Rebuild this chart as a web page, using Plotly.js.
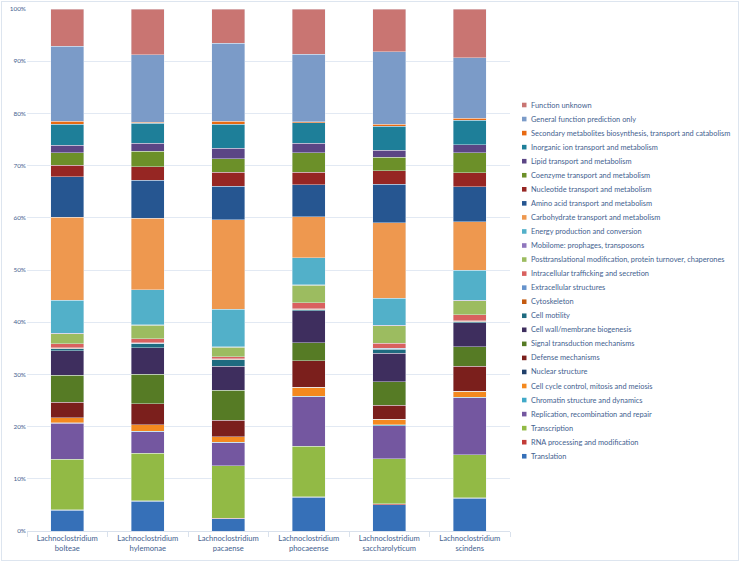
<!DOCTYPE html>
<html><head><meta charset="utf-8">
<script src="https://cdn.plot.ly/plotly-3.0.1.min.js"></script>
<style>
html,body{margin:0;padding:0;background:#fff}
#chart{width:740px;height:562px}
#frame{position:absolute;left:1px;top:1px;width:736px;height:558px;border:1px solid #dde5ef;pointer-events:none}
</style>
</head><body>
<div id="chart"></div><div id="frame"></div>
<script>
// Species (x categories)
const species = ["Lachnoclostridium<br>bolteae","Lachnoclostridium<br>hylemonae","Lachnoclostridium<br>pacaense","Lachnoclostridium<br>phocaeense","Lachnoclostridium<br>saccharolyticum","Lachnoclostridium<br>scindens"];

// COG category shares (%) per species, bottom to top of each stack
const translation      = [4.0, 5.75, 2.4, 6.45, 5.1, 6.3];
const rnaProcessing    = [0.1, 0.1, 0.1, 0.1, 0.1, 0.1];
const transcription    = [9.7, 9.15, 10.1, 9.75, 8.7, 8.3];
const replication      = [6.9, 4.1, 4.4, 9.5, 6.4, 10.9];
const chromatin        = [0.1, 0.1, 0.1, 0.1, 0.1, 0.1];
const cellCycle        = [1.0, 1.2, 1.0, 1.8, 1.1, 1.2];
const nuclearStructure = [0, 0, 0, 0, 0, 0];
const defense          = [3.0, 4.1, 3.2, 5.1, 2.7, 4.8];
const signalTrans      = [5.2, 5.7, 5.8, 3.4, 4.5, 3.8];
const cellWall         = [4.7, 5.1, 4.6, 6.2, 5.5, 4.6];
const cellMotility     = [0.4, 0.8, 1.3, 0.2, 0.8, 0.2];
const cytoskeleton     = [0.05, 0.05, 0.05, 0.05, 0.05, 0.05];
const extracellular    = [0.1, 0.1, 0.1, 0.1, 0.1, 0.1];
const intracellular    = [0.8, 0.7, 0.4, 1.2, 1.0, 1.2];
const posttranslation  = [1.9, 2.6, 1.8, 3.3, 3.3, 2.7];
const mobilome         = [0.1, 0.1, 0.1, 0.1, 0.1, 0.1];
const energy           = [6.4, 6.8, 7.2, 5.2, 5.2, 5.7];
const carbohydrate     = [15.9, 13.7, 17.2, 7.9, 14.6, 9.4];
const aminoAcid        = [7.8, 7.3, 6.5, 6.2, 7.4, 6.7];
const nucleotide       = [2.2, 2.6, 2.7, 2.4, 2.6, 2.7];
const coenzyme         = [2.4, 3.0, 2.6, 3.7, 2.6, 3.8];
const lipid            = [1.5, 1.6, 2.0, 1.9, 1.3, 1.6];
const inorganicIon     = [4.0, 3.8, 4.6, 3.9, 4.6, 4.7];
const secondaryMetab   = [0.6, 0.2, 0.6, 0.2, 0.4, 0.4];
const generalFunction  = [14.4, 13.0, 15.0, 13.0, 14.0, 11.6];
const functionUnknown  = [7.2, 8.8, 6.6, 8.7, 8.2, 9.4];

const categoryNames = ["Translation","RNA processing and modification","Transcription","Replication, recombination and repair","Chromatin structure and dynamics","Cell cycle control, mitosis and meiosis","Nuclear structure","Defense mechanisms","Signal transduction mechanisms","Cell wall/membrane biogenesis","Cell motility","Cytoskeleton","Extracellular structures","Intracellular trafficking and secretion","Posttranslational modification, protein turnover, chaperones","Mobilome: prophages, transposons","Energy production and conversion","Carbohydrate transport and metabolism","Amino acid transport and metabolism","Nucleotide transport and metabolism","Coenzyme transport and metabolism","Lipid transport and metabolism","Inorganic ion transport and metabolism","Secondary metabolites biosynthesis, transport and catabolism","General function prediction only","Function unknown"];
const seriesValues = [translation,rnaProcessing,transcription,replication,chromatin,cellCycle,nuclearStructure,defense,signalTrans,cellWall,cellMotility,cytoskeleton,extracellular,intracellular,posttranslation,mobilome,energy,carbohydrate,aminoAcid,nucleotide,coenzyme,lipid,inorganicIon,secondaryMetab,generalFunction,functionUnknown];
const seriesColors = ["#3670b8","#c23c38","#92ba45","#7457a0","#41a9c8","#f4891f","#203f6a","#7b1f1c","#567b25","#3e2e5e","#1e6b80","#c45a10","#6693cc","#d9615f","#9cbc60","#8f76bd","#52b0c9","#ee984f","#265691","#962623","#6c9029","#5b4585","#1e7f99","#e86a12","#7b9bc8","#c97572"];

const FONT = "Lato, 'Open Sans', sans-serif";
const TXT = "#44628f";

const traces = seriesValues.map((vals, i) => ({
  type: "bar",
  name: categoryNames[i],
  x: species,
  y: vals,
  marker: {color: seriesColors[i], line: {width: 0.6, color: "rgba(235,240,248,0.7)"}},
  showlegend: false,
  hoverinfo: "name+y"
}));

// custom compact legend (Function unknown at top)
const W = 740, H = 562, mL = 27, mR = 230, mT = 9, mB = 31;
const pw = W - mL - mR, ph = H - mT - mB;
const annotations = [], shapes = [];
const n = categoryNames.length;
for (let k = 0; k < n; k++) {
  const i = n - 1 - k;
  const yPix = 105 + k * 14.05;
  const yP = (H - mB - yPix) / ph;
  const xBox0 = (522 - mL) / pw, xBox1 = (526.5 - mL) / pw;
  const hb = 2.3 / ph;
  shapes.push({type: "rect", xref: "paper", yref: "paper", x0: xBox0, x1: xBox1, y0: yP - hb, y1: yP + hb,
    fillcolor: seriesColors[i], line: {width: 0}});
  annotations.push({xref: "paper", yref: "paper", x: (529 - mL) / pw, y: yP, xanchor: "left", yanchor: "middle",
    text: categoryNames[i], showarrow: false, font: {family: FONT, size: 7.4, color: TXT}});
}

const layout = {
  width: W, height: H,
  margin: {l: mL, r: mR, t: mT, b: mB, pad: 0},
  barmode: "stack",
  barnorm: "percent",
  bargap: 0.59,
  paper_bgcolor: "#fff", plot_bgcolor: "#fff",
  font: {family: FONT, color: TXT},
  showlegend: false,
  xaxis: {
    type: "category",
    showline: true, linecolor: "#d9e1ec", linewidth: 1,
    ticks: "outside", tickson: "boundaries", ticklen: 5, tickcolor: "#d9e1ec",
    tickfont: {family: FONT, size: 7.6, color: TXT},
    showgrid: false, zeroline: false
  },
  yaxis: {
    range: [0, 100], dtick: 10, ticksuffix: "%",
    showgrid: true, gridcolor: "#e2e9f3", gridwidth: 1,
    zeroline: false, showline: false, ticks: "",
    tickfont: {family: FONT, size: 6.4, color: TXT}
  },
  annotations: annotations,
  shapes: shapes
};

Plotly.newPlot("chart", traces, layout, {displayModeBar: false, staticPlot: true});
</script>
</body></html>
